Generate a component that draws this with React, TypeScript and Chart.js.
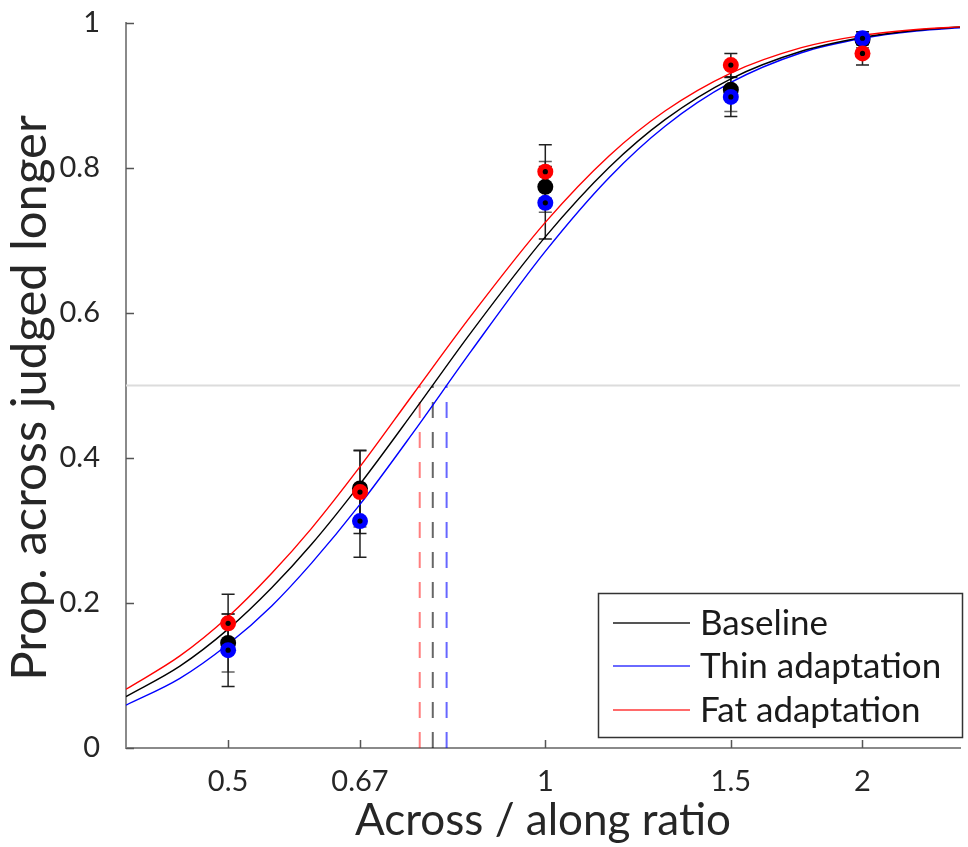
import React, { useEffect, useRef } from "react";
import { Chart, registerables } from "chart.js";

Chart.register(...registerables);

const FONT = "Lato, 'Open Sans', sans-serif";

// fitted curves
const curveX = [0.4, 0.45, 0.5, 0.55, 0.6, 0.667, 0.75, 0.85, 1.0, 1.15, 1.3, 1.5, 1.75, 2.0, 2.25, 2.5];
const baselineCurve = [0.071, 0.113, 0.164, 0.221, 0.281, 0.364, 0.464, 0.573, 0.705, 0.801, 0.867, 0.923, 0.961, 0.98, 0.99, 0.995];
const thinCurve = [0.059, 0.096, 0.143, 0.196, 0.255, 0.336, 0.436, 0.547, 0.685, 0.787, 0.858, 0.918, 0.959, 0.979, 0.989, 0.994];
const fatCurve = [0.081, 0.127, 0.181, 0.241, 0.303, 0.388, 0.489, 0.596, 0.725, 0.817, 0.879, 0.931, 0.966, 0.983, 0.991, 0.995];

// thresholds (PSE)
const baselinePSE = 0.782;
const thinPSE = 0.806;
const fatPSE = 0.76;

// observed data
const ratioX = [0.5, 0.667, 1, 1.5, 2];
const baselineData = [0.145, 0.358, 0.774, 0.908, 0.977];
const thinData = [0.135, 0.313, 0.752, 0.898, 0.979];
const fatData = [0.172, 0.353, 0.795, 0.942, 0.958];
const baselineErr = [0.04, 0.053, 0.035, 0.03, 0.011];
const thinErr = [0.05, 0.05, 0.05, 0.027, 0.009];
const fatErr = [0.04, 0.057, 0.037, 0.016, 0.016];

// ticks
const xTickVals = [0.5, 0.667, 1, 1.5, 2];
const xTickLabels = ["0.5", "0.67", "1", "1.5", "2"];
const yTickVals = [0, 0.2, 0.4, 0.6, 0.8, 1];
const yTickLabels = ["0", "0.2", "0.4", "0.6", "0.8", "1"];

const legendLabels = ["Baseline", "Thin adaptation", "Fat adaptation"];
const xTitle = "Across / along ratio";
const yTitle = "Prop. across judged longer";

const X_MIN = 0.4;
const X_MAX = 2.475;

const pts = (xs: number[], ys: number[]) => xs.map((x, i) => ({ x, y: ys[i] }));

const extraPlugin = {
  id: "extras",
  beforeDatasetsDraw(chart: any) {
    const { ctx, scales } = chart;
    const xs = scales.x, ys = scales.y;
    ctx.save();
    const groups = [
      { d: baselineData, e: baselineErr, c: "rgba(70,70,70,0.85)" },
      { d: thinData, e: thinErr, c: "rgba(20,20,20,0.95)" },
      { d: fatData, e: fatErr, c: "rgba(20,20,20,0.95)" },
    ];
    ctx.lineWidth = 1.5;
    for (const g of groups) {
      ctx.strokeStyle = g.c;
      ratioX.forEach((xv, i) => {
        const px = xs.getPixelForValue(xv);
        const top = ys.getPixelForValue(g.d[i] + g.e[i]);
        const bot = ys.getPixelForValue(g.d[i] - g.e[i]);
        ctx.beginPath();
        ctx.moveTo(px, top);
        ctx.lineTo(px, bot);
        ctx.moveTo(px - 6.5, top);
        ctx.lineTo(px + 6.5, top);
        ctx.moveTo(px - 6.5, bot);
        ctx.lineTo(px + 6.5, bot);
        ctx.stroke();
      });
    }
    ctx.restore();
  },
  afterDatasetsDraw(chart: any) {
    const { ctx, scales, chartArea } = chart;
    const xs = scales.x, ys = scales.y;
    ctx.save();
    ctx.fillStyle = "#000";
    for (const d of [thinData, fatData]) {
      ratioX.forEach((xv, i) => {
        ctx.beginPath();
        ctx.arc(xs.getPixelForValue(xv), ys.getPixelForValue(d[i]), 2.6, 0, Math.PI * 2);
        ctx.fill();
      });
    }
    // inward tick marks
    ctx.strokeStyle = "#555";
    ctx.lineWidth = 1.5;
    ctx.beginPath();
    yTickVals.forEach((v) => {
      const py = Math.round(ys.getPixelForValue(v)) + 0.5;
      ctx.moveTo(chartArea.left, py);
      ctx.lineTo(chartArea.left + 8, py);
    });
    xTickVals.forEach((v) => {
      const px = Math.round(xs.getPixelForValue(v)) + 0.5;
      ctx.moveTo(px, chartArea.bottom);
      ctx.lineTo(px, chartArea.bottom - 8);
    });
    ctx.stroke();
    ctx.restore();
  },
  afterDraw(chart: any) {
    const { ctx } = chart;
    ctx.save();
    // y axis title
    ctx.save();
    ctx.translate(30, 398);
    ctx.rotate(-Math.PI / 2);
    ctx.font = `49px ${FONT}`;
    ctx.fillStyle = "#262626";
    ctx.textAlign = "center";
    ctx.textBaseline = "middle";
    ctx.fillText(yTitle, 0, 0);
    ctx.restore();
    // legend
    const bx = 598, by = 593, bw = 364, bh = 144;
    ctx.fillStyle = "#fff";
    ctx.fillRect(bx, by, bw, bh);
    ctx.strokeStyle = "#333";
    ctx.lineWidth = 1.5;
    ctx.strokeRect(bx + 0.5, by + 0.5, bw, bh);
    const cols = ["#555555", "#6a6aff", "#ff6a6a"];
    const rows = [623, 666, 710];
    ctx.font = `35px ${FONT}`;
    ctx.textBaseline = "middle";
    ctx.textAlign = "left";
    rows.forEach((ry, i) => {
      ctx.strokeStyle = cols[i];
      ctx.lineWidth = 2;
      ctx.beginPath();
      ctx.moveTo(613, ry);
      ctx.lineTo(690, ry);
      ctx.stroke();
      ctx.fillStyle = "#1a1a1a";
      ctx.fillText(legendLabels[i], 700, ry + 1);
    });
    ctx.restore();
  },
};

export default function App() {
  const ref = useRef<HTMLCanvasElement>(null);
  useEffect(() => {
    const canvas = ref.current!;
    const dash = (x: number, color: string) => ({
      data: [{ x, y: 0 }, { x, y: 0.5 }],
      showLine: true,
      borderColor: color,
      borderWidth: 2,
      borderDash: [16, 14],
      pointRadius: 0,
    });
    const curve = (ys: number[], color: string) => ({
      data: pts(curveX, ys),
      showLine: true,
      borderColor: color,
      borderWidth: 1.4,
      pointRadius: 0,
      cubicInterpolationMode: "monotone" as const,
    });
    const marks = (ys: number[], color: string) => ({
      data: pts(ratioX, ys),
      showLine: false,
      pointRadius: 8,
      pointBackgroundColor: color,
      pointBorderWidth: 0,
      pointBorderColor: color,
      backgroundColor: color,
    });
    const chart = new Chart(canvas, {
      type: "scatter",
      data: {
        datasets: [
          marks(fatData, "#ff0000"),
          marks(thinData, "#0000ff"),
          marks(baselineData, "#000000"),
          curve(fatCurve, "#ff0000"),
          curve(baselineCurve, "#000000"),
          curve(thinCurve, "#0000ff"),
          dash(fatPSE, "rgba(255,0,0,0.5)"),
          dash(baselinePSE, "rgba(0,0,0,0.6)"),
          dash(thinPSE, "rgba(0,0,255,0.6)"),
          {
            data: [{ x: X_MIN, y: 0.5 }, { x: X_MAX, y: 0.5 }],
            showLine: true,
            borderColor: "#dcdcdc",
            borderWidth: 2,
            pointRadius: 0,
          },
        ] as any,
      },
      options: {
        responsive: false,
        animation: false,
        events: [],
        layout: { padding: { top: 23, left: 0, right: 0, bottom: 0 } },
        plugins: { legend: { display: false }, tooltip: { enabled: false } },
        scales: {
          x: {
            type: "logarithmic",
            min: X_MIN,
            max: X_MAX,
            afterBuildTicks: (s: any) => {
              s.ticks = xTickVals.map((v) => ({ value: v }));
            },
            afterFit: (s: any) => {
              s.height = 99;
              s.paddingLeft = 0;
              s.paddingRight = 0;
            },
            grid: { display: false },
            border: { display: true, color: "#8a8a8a", width: 2 },
            ticks: {
              autoSkip: false,
              maxRotation: 0,
              padding: 8,
              color: "#262626",
              font: { family: FONT, size: 29 },
              callback: (_v: any, i: number) => xTickLabels[i],
            },
            title: {
              display: true,
              text: xTitle,
              color: "#262626",
              font: { family: FONT, size: 44 },
              padding: { top: -2, bottom: 0 },
            },
          },
          y: {
            type: "linear",
            min: 0,
            max: 1,
            afterBuildTicks: (s: any) => {
              s.ticks = yTickVals.map((v) => ({ value: v }));
            },
            afterFit: (s: any) => {
              s.width = 126;
              s.paddingTop = 0;
              s.paddingBottom = 0;
            },
            grid: { display: false },
            border: { display: true, color: "#8a8a8a", width: 2 },
            ticks: {
              padding: 18,
              color: "#262626",
              font: { family: FONT, size: 29 },
              callback: (_v: any, i: number) => yTickLabels[i],
            },
            title: { display: false },
          },
        },
      } as any,
      plugins: [extraPlugin],
    });
    return () => chart.destroy();
  }, []);
  return (
    <div style={{ position: "absolute", left: 0, top: 0, width: 968, height: 847, background: "#fff" }}>
      <canvas ref={ref} width={968} height={847} style={{ display: "block", width: 968, height: 847 }} />
    </div>
  );
}
